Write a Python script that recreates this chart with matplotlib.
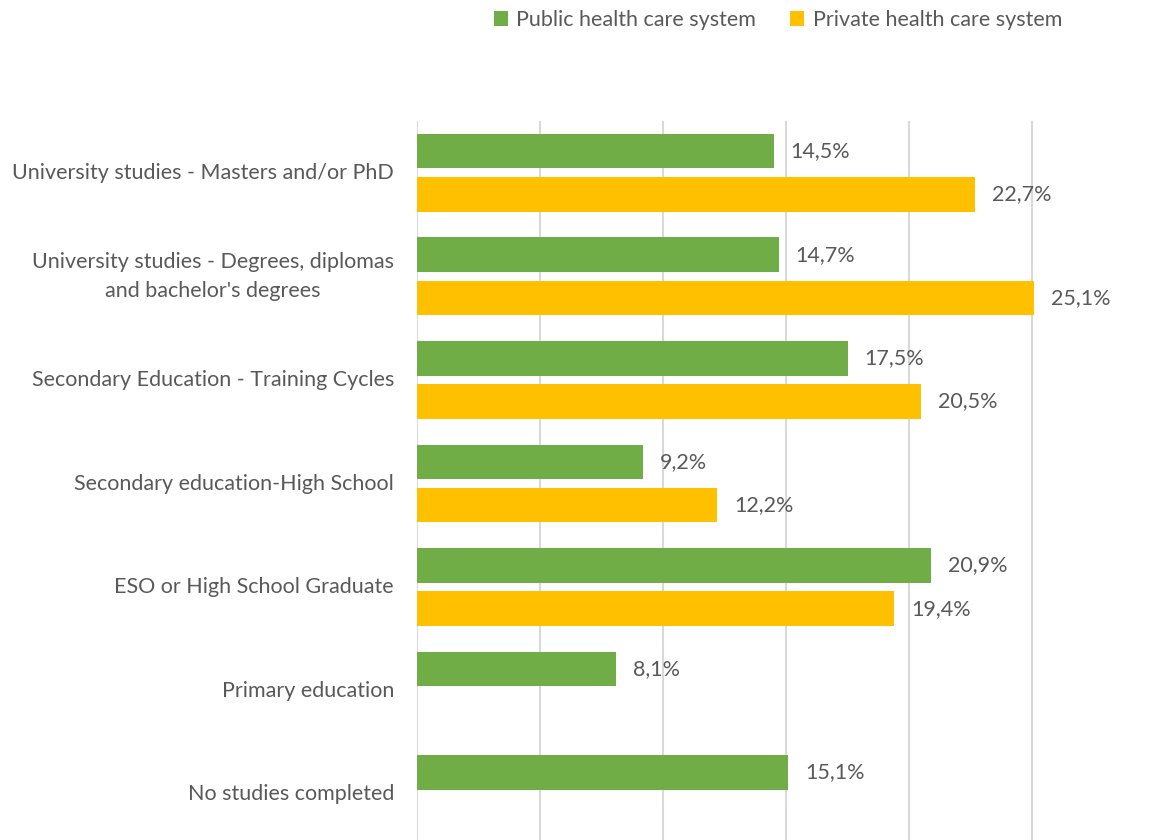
import numpy as np
import matplotlib
matplotlib.use("Agg")
import matplotlib.pyplot as plt
from matplotlib.patches import Patch

categories = [
    "University studies - Masters and/or PhD",
    "University studies - Degrees, diplomas\nand bachelor's degrees",
    "Secondary Education - Training Cycles",
    "Secondary education-High School",
    "ESO or High School Graduate",
    "Primary education",
    "No studies completed",
]
public_values = [14.5, 14.7, 17.5, 9.2, 20.9, 8.1, 15.1]
private_values = [22.7, 25.1, 20.5, 12.2, 19.4, np.nan, np.nan]
series_names = ["Public health care system", "Private health care system"]
series_colors = ["#70AD47", "#FFC000"]
x_ticks = [0, 5, 10, 15, 20, 25, 30]

TEXT = "#595959"
GRID = "#D9D9D9"
FONT = ["Lato", "DejaVu Sans"]
FS = 15.5
plt.rcParams["font.family"] = FONT

W, H = 1150, 840
fig = plt.figure(figsize=(W / 100, H / 100), dpi=100)

# plot area in pixel coordinates (it runs a little past the right and bottom edges)
left_px, right_px = 417, 1155
top_px, bottom_px = 121, 846
ax = fig.add_axes([left_px / W, 1 - bottom_px / H,
                   (right_px - left_px) / W, (bottom_px - top_px) / H])

n = len(categories)
y = np.arange(n)
bar_h = 0.333
offset = 0.209

ax.barh(y - offset, public_values, height=bar_h, color=series_colors[0], zorder=3)
ax.barh(y + offset, private_values, height=bar_h, color=series_colors[1], zorder=3)

ax.set_xlim(x_ticks[0], x_ticks[-1])
ax.set_ylim(n - 0.5, -0.5)
ax.set_xticks(x_ticks)
ax.set_xticklabels([])
ax.tick_params(axis="both", length=0)
ax.xaxis.grid(True, color=GRID, linewidth=1.5, zorder=0)
ax.set_axisbelow(True)
for s in ax.spines.values():
    s.set_visible(False)

ax.set_yticks(y)
ax.set_yticklabels(categories, fontsize=FS, color=TEXT,
                   multialignment="center", linespacing=1.55, va="center")
ax.tick_params(axis="y", pad=16.5)

def fmt(v):
    return f"{v:.1f}%".replace(".", ",")

pad = 0.68
for yi, v in zip(y - offset, public_values):
    if not np.isnan(v):
        ax.text(v + pad, yi, fmt(v), va="center", ha="left", fontsize=FS, color=TEXT)
for yi, v in zip(y + offset, private_values):
    if not np.isnan(v):
        ax.text(v + pad, yi, fmt(v), va="center", ha="left", fontsize=FS, color=TEXT)

handles = [Patch(facecolor=c, edgecolor="none") for c in series_colors]
fig.legend(handles, series_names, loc="center", bbox_to_anchor=(778 / W, 1 - 20 / H),
           ncol=2, frameon=False, fontsize=FS, labelcolor=TEXT,
           handlelength=0.65, handleheight=0.65, handletextpad=0.4, columnspacing=1.6)

fig.savefig("out.png", dpi=100)
